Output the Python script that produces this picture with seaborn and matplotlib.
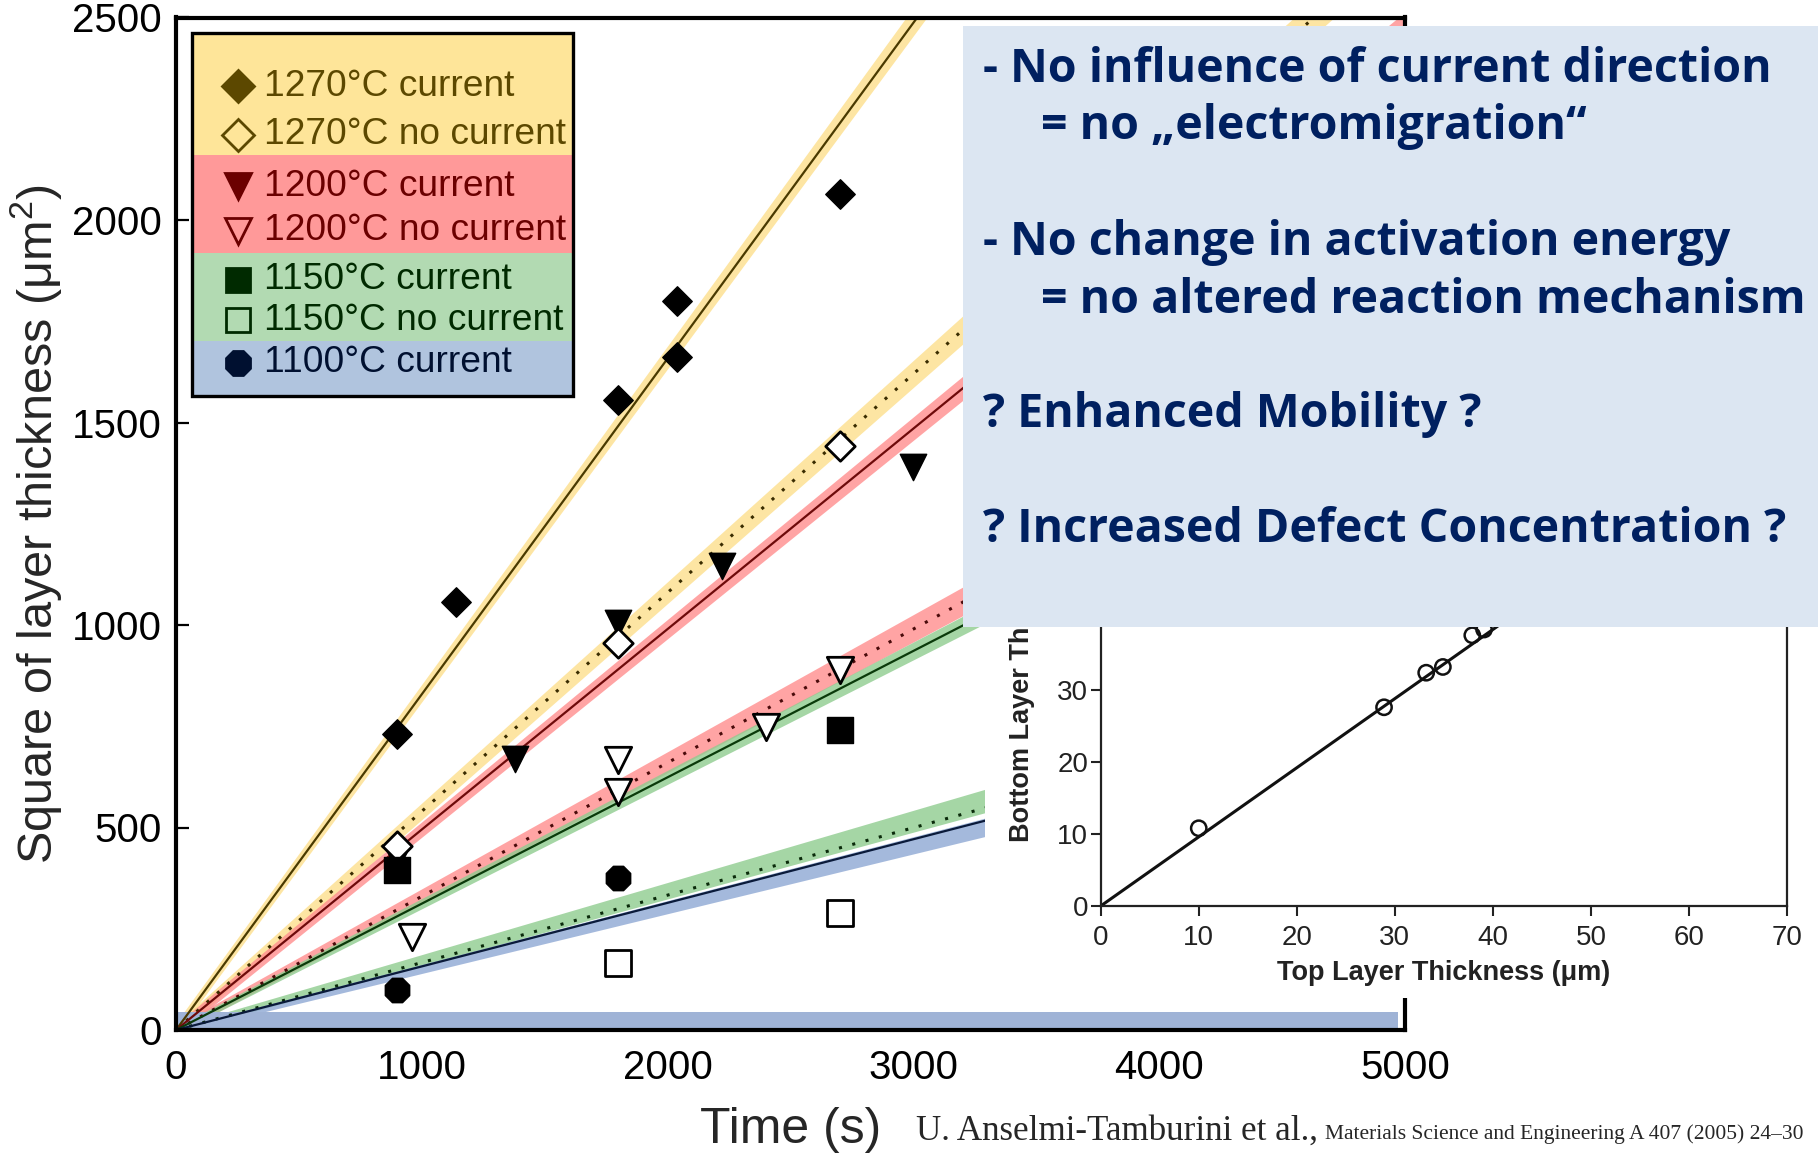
import numpy as np
import pandas as pd
import matplotlib
matplotlib.use("Agg")
import matplotlib.pyplot as plt
import seaborn as sns
from matplotlib.patches import Rectangle
from matplotlib.lines import Line2D
from matplotlib import font_manager

# ---------------- data ----------------
t_1270_cur = [900, 1140, 1800, 2040, 2040, 2700]
y_1270_cur = [730, 1057, 1556, 1799, 1661, 2065]
t_1270_no = [900, 1800, 2700]
y_1270_no = [455, 955, 1442]
t_1200_cur = [900, 1380, 1800, 2220, 3000]
y_1200_cur = [425, 668, 1005, 1146, 1390]
t_1200_no = [960, 1800, 1800, 2400, 2700]
y_1200_no = [230, 667, 588, 749, 889]
t_1150_cur = [900, 2700]
y_1150_cur = [395, 740]
t_1150_no = [1800, 2700]
y_1150_no = [165, 288]
t_1100_cur = [900, 1800]
y_1100_cur = [99, 375]

# fitted parabolic rate constants (slope of x^2 vs t, um^2/s)
k_1270_cur = 0.829
k_1270_no = 0.540
k_1200_cur = 0.495
k_1200_no = 0.330
k_1150_cur = 0.312
k_1150_no = 0.1665
k_1100_cur = 0.157

# horizontal band along the time axis
base_band_t = [0, 4970]
base_band_lo = [5, 5]
base_band_hi = [45, 45]

x_ticks = [0, 1000, 2000, 3000, 4000, 5000]
y_ticks = [0, 500, 1000, 1500, 2000, 2500]

# inset
top_thick = [10.0, 28.9, 33.2, 34.9, 37.9, 39.1]
bottom_thick = [10.8, 27.6, 32.4, 33.2, 37.6, 38.4]
inset_slope = 0.96
inset_xticks = [0, 10, 20, 30, 40, 50, 60, 70]
inset_yticks = [0, 10, 20, 30]

legend_labels = ["1270°C current", "1270°C no current", "1200°C current",
                 "1200°C no current", "1150°C current", "1150°C no current",
                 "1100°C current"]

box_lines = ["- No influence of current direction",
             "= no \u201eelectromigration\u201c",
             "- No change in activation energy",
             "= no altered reaction mechanism",
             "? Enhanced Mobility ?",
             "? Increased Defect Concentration ?"]

# ---------------- style ----------------
sns.set_theme(style="white")
names = {f.name for f in font_manager.fontManager.ttflist}
NARROW = "Liberation Sans Narrow" if "Liberation Sans Narrow" in names else "Liberation Sans"
plt.rcParams["font.family"] = ["Liberation Sans", "DejaVu Sans"]
plt.rcParams["mathtext.fontset"] = "custom"
plt.rcParams["mathtext.rm"] = "Liberation Sans"

W, H = 1818, 1156
fig = plt.figure(figsize=(W / 100, H / 100), dpi=100)
fig.patch.set_facecolor("white")


def fx(px):
    return px / W


def fy(py):
    return 1 - py / H


# ---------------- main axes ----------------
ax = fig.add_axes([fx(176), fy(1030), fx(1405) - fx(176), fy(17.5) - fy(1030)], zorder=0)
ax.set_facecolor("white")
ax.set_xlim(0, 5000)
ax.set_ylim(0, 2500)

YEL, RED, GRN, BLU = "#FDDF8C", "#FF8E8E", "#8FCC8F", "#8EA8D4"

series = [
    # k, band colour, (const_lo, frac_lo, const_hi, frac_hi), line colour, dotted?
    (k_1270_cur, YEL, (15, 0.008, 15, 0.008), "#4a3a00", False),
    (k_1270_no, YEL, (14, 0.012, 14, 0.012), "#3a2c00", True),
    (k_1200_cur, RED, (14, 0.010, 14, 0.010), "#6e0a0a", False),
    (k_1200_no, RED, (10, 0.022, 10, 0.026), "#4a0a0a", True),
    (k_1150_cur, GRN, (8, 0.015, 8, 0.015), "#0a3a0a", False),
    (k_1150_no, GRN, (6, 0.010, 8, 0.070), "#0a2a0a", True),
    (k_1100_cur, BLU, (8, 0.060, 4, 0.005), "#0a1a3a", False),
]
tt = np.array([0.0, 5000.0])
for k, c, (clo, flo, chi, fhi), lc, dotted in series:
    yy = k * tt
    ax.fill_between(tt, yy * (1 - flo) - clo, yy * (1 + fhi) + chi, color=c, alpha=0.8, lw=0, zorder=1)
for k, c, bw, lc, dotted in series:
    yy = k * tt
    if dotted:
        ax.plot(tt, yy, color=lc, lw=2.2, linestyle=(0, (1, 3.5)), zorder=2)
    else:
        ax.plot(tt, yy, color=lc, lw=1.6, zorder=2)

ax.fill_between(base_band_t, base_band_lo, base_band_hi, color="#9FB3D6", lw=0, zorder=1)

MS = 19 ** 2
sns.scatterplot(x=t_1200_cur, y=y_1200_cur, marker="v", s=MS, color="black", edgecolor="black", linewidth=1, ax=ax, zorder=4)
sns.scatterplot(x=t_1270_cur, y=y_1270_cur, marker="D", s=15 ** 2, color="black", edgecolor="black", linewidth=1, ax=ax, zorder=4)
sns.scatterplot(x=t_1270_no, y=y_1270_no, marker="D", s=15 ** 2, color="white", edgecolor="black", linewidth=2, ax=ax, zorder=4)
sns.scatterplot(x=t_1200_no, y=y_1200_no, marker="v", s=MS, color="white", edgecolor="black", linewidth=2, ax=ax, zorder=4)
sns.scatterplot(x=t_1150_cur, y=y_1150_cur, marker="s", s=MS, color="black", edgecolor="black", linewidth=1, ax=ax, zorder=5)
sns.scatterplot(x=t_1150_no, y=y_1150_no, marker="s", s=MS, color="white", edgecolor="black", linewidth=2, ax=ax, zorder=4)
sns.scatterplot(x=t_1100_cur, y=y_1100_cur, marker="8", s=MS, color="black", edgecolor="black", linewidth=1, ax=ax, zorder=4)

ax.set_xticks(x_ticks)
ax.set_yticks(y_ticks)
ax.tick_params(axis="both", direction="in", length=9, width=1.6, colors="black",
               labelsize=29, bottom=True, left=True, top=False, right=False)
ax.tick_params(axis="x", pad=14)
ax.tick_params(axis="y", pad=10)
for sp in ax.spines.values():
    sp.set_visible(True)
    sp.set_color("black")
    sp.set_linewidth(3)
ax.set_xlabel("Time (s)", fontsize=36, va="center")
ax.xaxis.set_label_coords(0.5, -0.099)
ax.set_ylabel("Square of layer thickness (μm$^{2}$)", fontsize=35, va="center")
ax.yaxis.set_label_coords(-0.113, 0.5)

# ---------------- legend (drawn as figure artists) ----------------
sections = [(32.7, 155, "#FEE599"), (155, 253, "#FF9999"), (253, 341, "#B2DAB2"), (341, 396, "#B0C4DE")]
for top, bot, col in sections:
    fig.add_artist(Rectangle((fx(192), fy(bot)), fx(573) - fx(192), fy(top) - fy(bot),
                             transform=fig.transFigure, facecolor=col, edgecolor="none", zorder=5))
fig.add_artist(Rectangle((fx(192), fy(396)), fx(573) - fx(192), fy(32.7) - fy(396),
                         transform=fig.transFigure, facecolor="none", edgecolor="black", lw=2.4, zorder=6))
row_y = [86, 135, 186, 231, 280, 320, 363]
OLV, DRD, DGN, NAV = "#5C4800", "#6B0000", "#002A00", "#001030"
row_style = [
    ("D", 16, OLV, OLV, OLV),
    ("D", 16, "none", OLV, OLV),
    ("v", 19, DRD, DRD, DRD),
    ("v", 19, "none", DRD, DRD),
    ("s", 17, DGN, DGN, DGN),
    ("s", 17, "none", DGN, DGN),
    ("8", 19, NAV, NAV, NAV),
]
for ry, lab, (mk, ms, fc, ec, tc) in zip(row_y, legend_labels, row_style):
    fig.add_artist(Line2D([fx(238)], [fy(ry)], marker=mk, markersize=ms, markerfacecolor=fc,
                          markeredgecolor=ec, markeredgewidth=2, linestyle="none",
                          transform=fig.transFigure, zorder=7))
    fig.text(fx(264), fy(ry), lab, fontsize=26.7, color=tc, va="center", ha="left", zorder=7)

# ---------------- white backing of the inset figure ----------------
fig.add_artist(Rectangle((fx(985), fy(998)), 1 - fx(985), fy(560) - fy(998),
                         transform=fig.transFigure, facecolor="white", edgecolor="none", zorder=1))

# ---------------- inset ----------------
axi = fig.add_axes([fx(1100.7), fy(906), fx(1787) - fx(1100.7), (906 - 402) / H], zorder=2)
axi.set_facecolor("white")
axi.set_xlim(0, 70)
axi.set_ylim(0, 70)
xi = np.array([0.0, 70.0])
axi.plot(xi, inset_slope * xi, color="#111111", lw=2.2, zorder=2)
sns.scatterplot(x=top_thick, y=bottom_thick, marker="o", s=11 ** 2, color="none",
                edgecolor="#111111", linewidth=1.8, ax=axi, zorder=3)
axi.set_xticks(inset_xticks)
axi.set_yticks(inset_yticks)
axi.tick_params(axis="both", direction="out", length=7, width=1.5, colors="#222222",
                labelsize=20, bottom=True, left=True)
axi.tick_params(axis="x", pad=7)
axi.tick_params(axis="y", pad=2)
for lab in axi.get_xticklabels() + axi.get_yticklabels():
    lab.set_fontfamily(NARROW)
for sp in axi.spines.values():
    sp.set_visible(True)
    sp.set_color("#222222")
    sp.set_linewidth(1.6)
axi.set_xlabel("Top Layer Thickness (μm)", fontsize=19.5, fontweight="bold", family=NARROW,
               color="#222222", va="center")
axi.xaxis.set_label_coords(0.5, -(973 - 906) / 504)
# only the lower part of this label is visible below the text box
fig.text(fx(1022), fy(842), "Bottom Layer Thi", rotation=90, fontsize=19.5, fontweight="bold",
         color="#222222", ha="center", va="bottom", zorder=2.5)

# ---------------- text box ----------------
fig.add_artist(Rectangle((fx(963), fy(627)), 1 - fx(963), fy(26) - fy(627),
                         transform=fig.transFigure, facecolor="#DCE6F2", edgecolor="none", zorder=3))
box_x = [983, 1041, 983, 1041, 983, 983]
box_y = [70, 127, 243, 301, 415, 530]
for txt, bx, by in zip(box_lines, box_x, box_y):
    fig.text(fx(bx), fy(by), txt, fontsize=33.5, fontweight="bold", color="#002060",
             family=["Open Sans", "DejaVu Sans"], va="center", ha="left", zorder=4)

# ---------------- citation ----------------
t1 = fig.text(fx(916), fy(1140), "U. Anselmi-Tamburini et al.,", fontsize=25.2,
              family="Liberation Serif", va="baseline", ha="left", zorder=4)
ax.annotate("Materials Science and Engineering A 407 (2005) 24\u201330", xy=(1, 0), xycoords=t1,
            xytext=(5, 3), textcoords="offset points", fontsize=15.5, family="Liberation Serif",
            va="bottom", ha="left", annotation_clip=False)

fig.savefig("out.png", dpi=100)
